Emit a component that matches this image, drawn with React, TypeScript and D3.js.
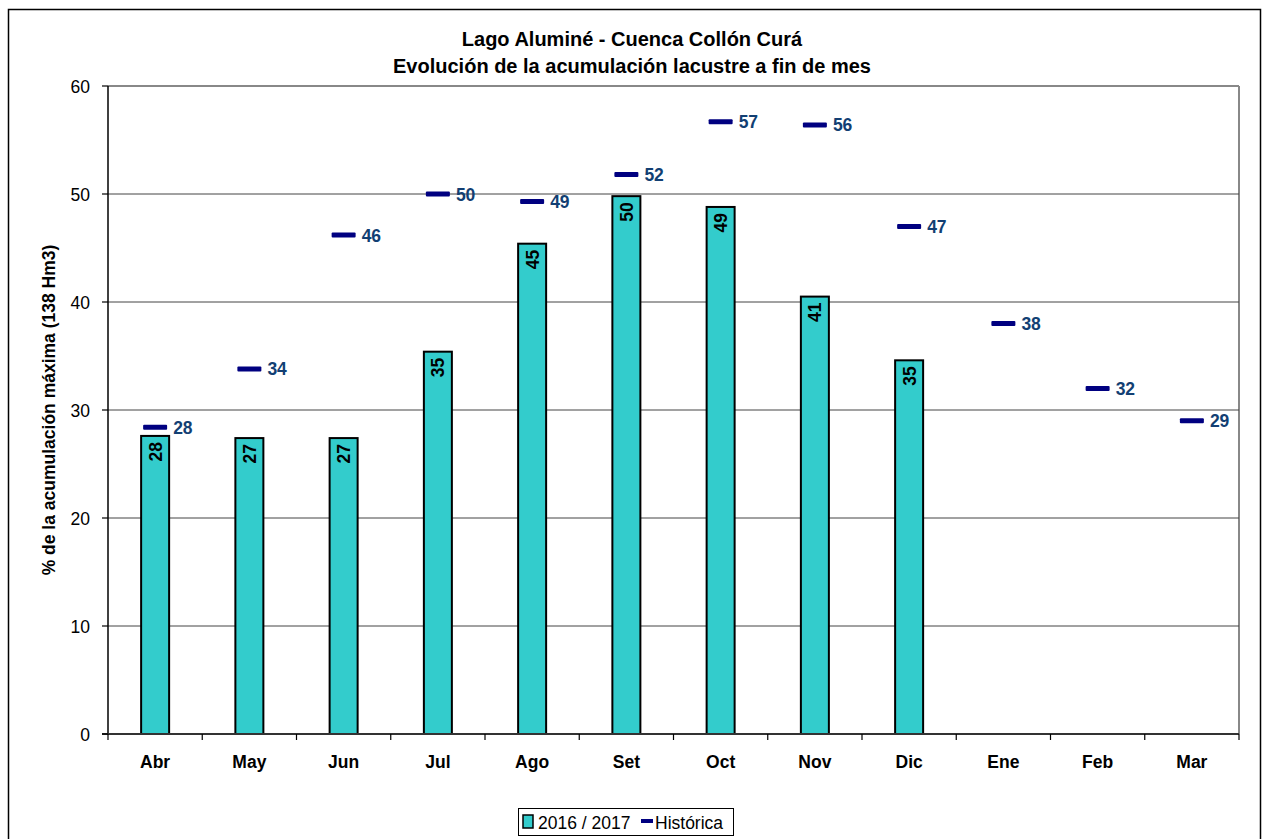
import React from "react";
import * as d3 from "d3";

const months = ["Abr", "May", "Jun", "Jul", "Ago", "Set", "Oct", "Nov", "Dic", "Ene", "Feb", "Mar"];
const current: (number | null)[] = [27.6, 27.4, 27.4, 35.4, 45.4, 49.8, 48.8, 40.5, 34.6, null, null, null];
const historic = [28.4, 33.8, 46.2, 50.0, 49.3, 51.8, 56.7, 56.4, 47.0, 38.0, 32.0, 29.0];
const yTicks = [0, 10, 20, 30, 40, 50, 60];

const W = 1263, H = 839;
const left = 108, right = 1239, top = 86, bottom = 734;
const font = "'Liberation Sans', Arial, sans-serif";

export default function App() {
  const x = d3.scaleBand<string>().domain(months).range([left, right]).padding(0);
  const y = d3.scaleLinear().domain([0, 60]).range([bottom, top]);
  const bw = 28;
  const cx = (m: string) => (x(m) as number) + x.bandwidth() / 2;

  return (
    <svg width={W} height={H} style={{ position: "absolute", left: 0, top: 0, display: "block" }} fontFamily={font}>
      <rect x={0} y={0} width={W} height={H} fill="#fff" />
      <rect x={8.5} y={9.5} width={1252} height={840} fill="#fff" stroke="#000" strokeWidth={1.5} />
      <text x={632} y={46} textAnchor="middle" fontSize={20} fontWeight="bold">Lago Aluminé - Cuenca Collón Curá</text>
      <text x={632} y={73} textAnchor="middle" fontSize={20} fontWeight="bold">Evolución de la acumulación lacustre a fin de mes</text>

      {/* plot frame */}
      <line x1={left} x2={right} y1={top} y2={top} stroke="#888" strokeWidth={2} />
      <line x1={right} x2={right} y1={top} y2={bottom} stroke="#888" strokeWidth={2} />
      {yTicks.filter(t => t > 0 && t < 60).map(t => (
        <line key={t} x1={left} x2={right} y1={y(t)} y2={y(t)} stroke="#444" strokeWidth={1} />
      ))}

      {/* bars */}
      {months.map((m, i) => {
        const v = current[i];
        if (v == null) return null;
        const bx = cx(m) - bw / 2;
        return (
          <g key={m}>
            <rect x={bx} y={y(v)} width={bw} height={bottom - y(v)} fill="#33CCCC" stroke="#000" strokeWidth={2} />
            <text transform={`translate(${cx(m) + 6.5},${y(v) + 6}) rotate(-90)`} textAnchor="end" fontSize={17.5} fontWeight="bold" fill="#000">
              {Math.round(v)}
            </text>
          </g>
        );
      })}

      {/* historic markers */}
      {months.map((m, i) => (
        <g key={"h" + m}>
          <rect x={cx(m) - 12} y={y(historic[i]) - 2.5} width={24} height={5} fill="#000080" rx={1} />
          <text x={cx(m) + 18} y={y(historic[i]) + 6.5} fontSize={17.5} fontWeight="bold" fill="#123f73">
            {Math.round(historic[i])}
          </text>
        </g>
      ))}

      {/* axes */}
      <line x1={left} x2={left} y1={top} y2={bottom} stroke="#000" strokeWidth={1.5} />
      <line x1={left - 6} x2={right} y1={bottom} y2={bottom} stroke="#333" strokeWidth={2} />
      {yTicks.map(t => (
        <g key={"yt" + t}>
          <line x1={left - 6} x2={left} y1={y(t)} y2={y(t)} stroke="#000" strokeWidth={1.2} />
          <text x={left - 18} y={y(t) + 6.5} textAnchor="end" fontSize={17.5} fill="#000">{t}</text>
        </g>
      ))}
      {months.map((m) => (
        <g key={"xt" + m}>
          <line x1={x(m) as number} x2={x(m) as number} y1={bottom} y2={bottom + 6} stroke="#000" strokeWidth={1.2} />
          <text x={cx(m)} y={768} textAnchor="middle" fontSize={17.5} fontWeight="bold">{m}</text>
        </g>
      ))}
      <line x1={right} x2={right} y1={bottom} y2={bottom + 6} stroke="#000" strokeWidth={1.2} />

      <text transform={`translate(55,${(top + bottom) / 2}) rotate(-90)`} textAnchor="middle" fontSize={17.5} fontWeight="bold">
        % de la acumulación máxima (138 Hm3)
      </text>

      {/* legend */}
      <rect x={518.5} y={808.5} width={215} height={27} fill="#fff" stroke="#000" strokeWidth={1} />
      <rect x={523} y={815} width={10} height={13} fill="#33CCCC" stroke="#000" strokeWidth={1.5} />
      <text x={538} y={829} fontSize={17.5}>2016 / 2017</text>
      <rect x={641} y={819} width={12} height={4} fill="#000080" />
      <text x={655} y={829} fontSize={17.5}>Histórica</text>
    </svg>
  );
}
